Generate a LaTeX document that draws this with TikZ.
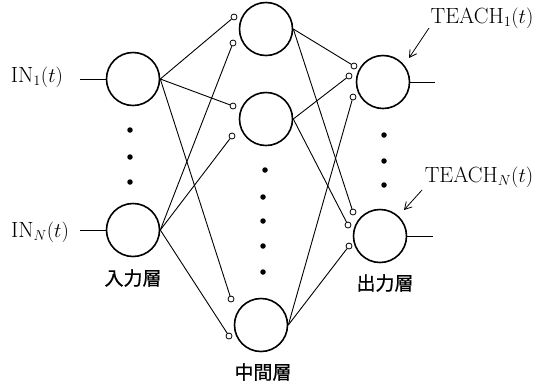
\documentclass[tikz,border=0pt]{standalone}
\usepackage{fontspec}
\usetikzlibrary{arrows.meta}
\newfontfamily\cjk[FakeBold=0.8]{Noto Sans CJK JP}
\tikzset{
  neuron/.style={circle,draw,line width=1.6pt,minimum size=53pt,inner sep=0pt},
  syn/.style={circle,draw,line width=0.8pt,minimum size=6pt,inner sep=0pt},
  conn/.style={line width=0.9pt},
  dotn/.style={circle,fill,minimum size=5.5pt,inner sep=0pt},
  lbl/.style={inner sep=0pt,font=\fontsize{22}{26}\selectfont},
  jlbl/.style={inner sep=0pt,font=\cjk\fontsize{19}{22}\selectfont},
  tarrow/.style={line width=0.8pt,-{Straight Barb[length=7pt,width=8pt]}}
}
\begin{document}
\begin{tikzpicture}[x=1pt,y=-1pt]
\useasboundingbox (0,0) rectangle (540,384);
% input layer
\node[neuron] (i1) at (133,79) {};
\node[neuron] (i2) at (133,230) {};
\foreach \y [count=\k] in {130,157,182} \node[dotn] (di\k) at (130,\y) {};
\coordinate (in1) at (80,79);
\coordinate (in2) at (80,230);
\draw[conn] (in1) -- (i1.west);
\draw[conn] (in2) -- (i2.west);
\node[lbl] (lin1) at (37,77) {IN$_1(t)$};
\node[lbl] (lin2) at (40,232) {IN$_N(t)$};
\node[jlbl] (ljin) at (133,278) {入力層};
% hidden layer
\node[neuron] (h1) at (266,29) {};
\node[neuron] (h2) at (266,119) {};
\node[neuron] (h3) at (261,325) {};
\foreach \x/\y [count=\k] in {265/170,263/197,263/221,263/246,263/272} \node[dotn] (dh\k) at (\x,\y) {};
\node[jlbl] (ljmid) at (263,372) {中間層};
\node[syn] (s1) at (234,17) {};
\node[syn] (s2) at (233,43) {};
\node[syn] (s3) at (233,106) {};
\node[syn] (s4) at (232,136) {};
\node[syn] (s5) at (231,299) {};
\node[syn] (s6) at (229,336) {};
\draw[conn] (i1.east) -- (s1);
\draw[conn] (i1.east) -- (s3);
\draw[conn] (i1.east) -- (s5);
\draw[conn] (i2.east) -- (s2);
\draw[conn] (i2.east) -- (s4);
\draw[conn] (i2.east) -- (s6);
% output layer
\node[neuron] (o1) at (383,82) {};
\node[neuron] (o2) at (380,236) {};
\foreach \y [count=\k] in {135,161,185} \node[dotn] (do\k) at (384,\y) {};
\node[syn] (t1) at (354,66) {};
\node[syn] (t2) at (349,76) {};
\node[syn] (t3) at (353,97) {};
\node[syn] (t4) at (353,212) {};
\node[syn] (t5) at (348,225) {};
\node[syn] (t6) at (349,246) {};
\draw[conn] (h1.east) -- (t1);
\draw[conn] (h1.east) -- (t4);
\draw[conn] (h2.east) -- (t2);
\draw[conn] (h2.east) -- (t5);
\draw[conn] (h3.east) -- (t3);
\draw[conn] (h3.east) -- (t6);
\coordinate (out1) at (435,82);
\coordinate (out2) at (433,236);
\draw[conn] (o1.east) -- (out1);
\draw[conn] (o2.east) -- (out2);
\node[jlbl] (ljout) at (385,283) {出力層};
% teacher signals
\node[lbl] (lt1) at (482,18) {TEACH$_1(t)$};
\node[lbl] (lt2) at (479,177) {TEACH$_N(t)$};
\coordinate (a1s) at (429,28);
\coordinate (a1e) at (409,58);
\coordinate (a2s) at (422,190);
\coordinate (a2e) at (404,210);
\draw[tarrow] (a1s) -- (a1e);
\draw[tarrow] (a2s) -- (a2e);
\end{tikzpicture}
\end{document}
